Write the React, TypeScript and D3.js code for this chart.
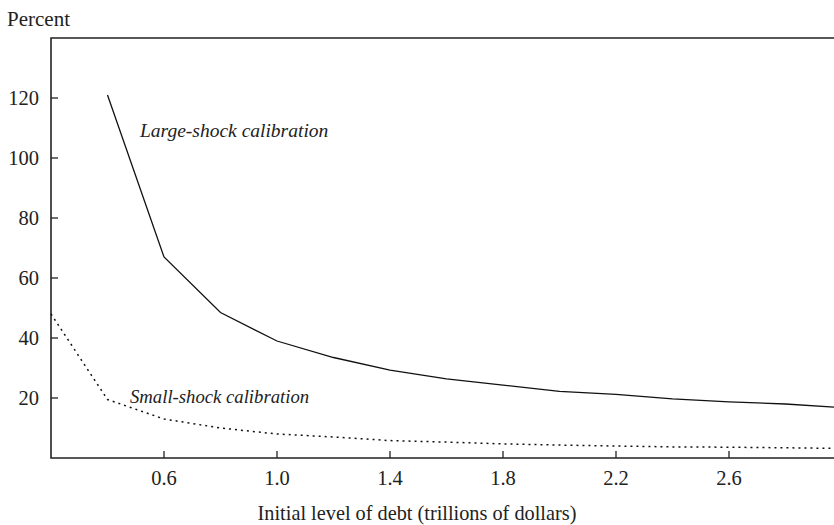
import { useEffect, useRef } from 'react';
import * as d3 from 'd3';

// debt levels, trillions of dollars
const largeDebt = [0.4, 0.6, 0.8, 1.0, 1.2, 1.4, 1.6, 1.8, 2.0, 2.2, 2.4, 2.6, 2.8, 3.0];
const largeShock = [121, 67, 48.5, 39, 33.5, 29.3, 26.4, 24.3, 22.2, 21.2, 19.7, 18.7, 18, 16.8];

const smallDebt = [0.2, 0.4, 0.6, 0.8, 1.0, 1.2, 1.4, 1.6, 1.8, 2.0, 2.2, 2.4, 2.6, 2.8, 3.0];
const smallShock = [48, 19.5, 13, 10, 8, 7, 5.8, 5.3, 4.7, 4.3, 4, 3.7, 3.6, 3.4, 3.2];

const xTicks = [0.6, 1.0, 1.4, 1.8, 2.2, 2.6];
const yTicks = [20, 40, 60, 80, 100, 120];

const FONT = '"Liberation Serif", "Times New Roman", serif';

export default function App() {
  const ref = useRef<SVGSVGElement>(null);

  useEffect(() => {
    const svgElement = ref.current;
    if (!svgElement) return;

    const svg = d3.select(svgElement);
    svg.selectAll('*').remove();

    const width = 834;
    const height = 525;
    const left = 51;
    const top = 38;
    const bottom = 458;

    const x = d3.scaleLinear().domain([0.2, 3.0]).range([left, left + 2.8 * 282.5]);
    const y = d3.scaleLinear().domain([0, 140]).range([bottom, top]);

    svg.attr('viewBox', `0 0 ${width} ${height}`);

    // frame: top + left + bottom (right edge runs off the page)
    svg
      .append('path')
      .attr('d', `M${x(3.0) + 10},${top}H${left}V${bottom}H${x(3.0) + 10}`)
      .attr('fill', 'none')
      .attr('stroke', '#222')
      .attr('stroke-width', 1.6);

    // y ticks, pointing inward
    const yg = svg.append('g');
    yg.selectAll('line')
      .data(yTicks)
      .join('line')
      .attr('x1', left)
      .attr('x2', left + 7)
      .attr('y1', (d: number) => y(d))
      .attr('y2', (d: number) => y(d))
      .attr('stroke', '#222')
      .attr('stroke-width', 1.3);
    yg.selectAll('text')
      .data(yTicks)
      .join('text')
      .attr('x', 39)
      .attr('y', (d: number) => y(d))
      .attr('dy', '0.32em')
      .attr('text-anchor', 'end')
      .attr('font-family', FONT)
      .attr('font-size', 20.5)
      .attr('fill', '#222')
      .text((d: number) => String(d));

    // x ticks, pointing up
    const xg = svg.append('g');
    xg.selectAll('line')
      .data(xTicks)
      .join('line')
      .attr('x1', (d: number) => x(d))
      .attr('x2', (d: number) => x(d))
      .attr('y1', bottom)
      .attr('y2', bottom - 7)
      .attr('stroke', '#222')
      .attr('stroke-width', 1.3);
    xg.selectAll('text')
      .data(xTicks)
      .join('text')
      .attr('x', (d: number) => x(d))
      .attr('y', 485)
      .attr('text-anchor', 'middle')
      .attr('font-family', FONT)
      .attr('font-size', 20.5)
      .attr('fill', '#222')
      .text((d: number) => d.toFixed(1));

    const line = d3
      .line<[number, number]>()
      .x((d) => x(d[0]))
      .y((d) => y(d[1]));

    svg
      .append('path')
      .datum(largeDebt.map((d, i) => [d, largeShock[i]] as [number, number]))
      .attr('d', line)
      .attr('fill', 'none')
      .attr('stroke', '#111')
      .attr('stroke-width', 1.3);

    svg
      .append('path')
      .datum(smallDebt.map((d, i) => [d, smallShock[i]] as [number, number]))
      .attr('d', line)
      .attr('fill', 'none')
      .attr('stroke', '#111')
      .attr('stroke-width', 1.5)
      .attr('stroke-dasharray', '2,4');

    const label = (tx: number, ty: number, s: string, size: number) =>
      svg
        .append('text')
        .attr('x', tx)
        .attr('y', ty)
        .attr('font-family', FONT)
        .attr('font-style', 'italic')
        .attr('font-size', size)
        .attr('fill', '#222')
        .text(s);

    label(140, 137, 'Large-shock calibration', 19.5);
    label(130, 403, 'Small-shock calibration', 18.7);

    svg
      .append('text')
      .attr('x', 7)
      .attr('y', 26)
      .attr('font-family', FONT)
      .attr('font-size', 21)
      .attr('fill', '#222')
      .text('Percent');

    svg
      .append('text')
      .attr('x', 417)
      .attr('y', 520)
      .attr('text-anchor', 'middle')
      .attr('font-family', FONT)
      .attr('font-size', 20.3)
      .attr('fill', '#222')
      .text('Initial level of debt (trillions of dollars)');
  }, []);

  return (
    <div style={{ position: 'absolute', left: 0, top: 0, width: 834, height: 525, background: '#fff' }}>
      <svg ref={ref} width={834} height={525} style={{ display: 'block' }} />
    </div>
  );
}
